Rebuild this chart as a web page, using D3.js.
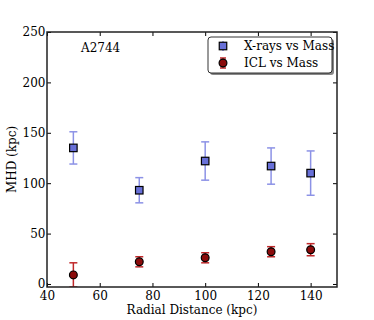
<!DOCTYPE html>
<html>
<head>
<meta charset="utf-8">
<script src="https://cdn.jsdelivr.net/npm/d3@7"></script>
<style>
body { margin: 0; background: #fff; }
</style>
</head>
<body>
<script>
var width = 374;
var height = 320;
var font = "'DejaVu Serif', serif";

// data
var radii = [50, 75, 100, 125, 140];
var xrayMhd = [135, 93, 122, 117, 110];
var xrayErr = [16, 12.5, 19, 18, 22];
var iclMhd = [9, 22, 26, 32, 34];
var iclErr = [12, 5, 5, 5, 6];
var xTicks = [40, 60, 80, 100, 120, 140];
var yTicks = [0, 50, 100, 150, 200, 250];

var m = {left: 47, right: 37, top: 32, bottom: 33};

var svg = d3.select('body').append('svg')
  .attr('width', width)
  .attr('height', height);

var x = d3.scaleLinear().domain([40, 150]).range([m.left, width - m.right]);
var y = d3.scaleLinear().domain([-3, 250]).range([height - m.bottom, m.top]);

svg.append("defs").append("clipPath").attr("id", "plotclip")
  .append("rect")
  .attr("x", m.left).attr("y", m.top)
  .attr("width", width - m.left - m.right)
  .attr("height", height - m.top - m.bottom);

var tickLen = 4;

// axes on all four sides, ticks pointing in
svg.append("g")
  .attr("transform", "translate(0," + (height - m.bottom) + ")")
  .call(d3.axisBottom(x).tickValues(xTicks).tickSize(-tickLen).tickPadding(4).tickSizeOuter(0))
  .call(function(g) { g.select(".domain").remove(); });
svg.append("g")
  .attr("transform", "translate(0," + m.top + ")")
  .call(d3.axisTop(x).tickValues(xTicks).tickSize(-tickLen).tickFormat("").tickSizeOuter(0))
  .call(function(g) { g.select(".domain").remove(); });
svg.append("g")
  .attr("transform", "translate(" + m.left + ",0)")
  .call(d3.axisLeft(y).tickValues(yTicks).tickSize(-tickLen).tickPadding(1.5).tickSizeOuter(0))
  .call(function(g) { g.select(".domain").remove(); });
svg.append("g")
  .attr("transform", "translate(" + (width - m.right) + ",0)")
  .call(d3.axisRight(y).tickValues(yTicks).tickSize(-tickLen).tickFormat("").tickSizeOuter(0))
  .call(function(g) { g.select(".domain").remove(); });

svg.selectAll(".tick text")
  .style("font-family", font)
  .style("font-size", "12px")
  .attr("fill", "#000");
svg.selectAll(".tick line").attr("stroke", "#000").attr("stroke-width", 1);

// error bars and markers
var plot = svg.append("g").attr("clip-path", "url(#plotclip)");

function errorBars(vals, errs, color) {
  var g = plot.append("g");
  radii.forEach(function(r, i) {
    var y0 = y(vals[i] - errs[i]), y1 = y(vals[i] + errs[i]);
    g.append("line").attr("x1", x(r)).attr("x2", x(r)).attr("y1", y0).attr("y2", y1)
      .attr("stroke", color).attr("stroke-width", 1.5);
    [y0, y1].forEach(function(yy) {
      g.append("line").attr("x1", x(r) - 4).attr("x2", x(r) + 4).attr("y1", yy).attr("y2", yy)
        .attr("stroke", color).attr("stroke-width", 1.5);
    });
  });
}

errorBars(xrayMhd, xrayErr, "#8c92e6");
errorBars(iclMhd, iclErr, "#c0282a");

plot.selectAll("rect.xray")
  .data(radii)
  .enter().append("rect")
  .attr("class", "xray")
  .attr("x", function(d) { return x(d) - 3.75; })
  .attr("y", function(d, i) { return y(xrayMhd[i]) - 3.75; })
  .attr("width", 7.5).attr("height", 7.5)
  .attr("fill", "#6870d8")
  .attr("stroke", "#000").attr("stroke-width", 1.2);

plot.selectAll("circle.icl")
  .data(radii)
  .enter().append("circle")
  .attr("class", "icl")
  .attr("cx", function(d) { return x(d); })
  .attr("cy", function(d, i) { return y(iclMhd[i]); })
  .attr("r", 3.9)
  .attr("fill", "#8b0b0b")
  .attr("stroke", "#000").attr("stroke-width", 1.2);

// frame
svg.append("rect")
  .attr("x", m.left).attr("y", m.top)
  .attr("width", width - m.left - m.right)
  .attr("height", height - m.top - m.bottom)
  .attr("fill", "none")
  .attr("stroke", "#222")
  .attr("stroke-width", 1.5);

// labels
svg.append("text")
  .attr("x", (m.left + width - m.right) / 2)
  .attr("y", 314)
  .attr("text-anchor", "middle")
  .style("font-family", font)
  .style("font-size", "12px")
  .text("Radial Distance (kpc)");

svg.append("text")
  .attr("transform", "translate(16," + ((m.top + height - m.bottom) / 2) + ") rotate(-90)")
  .attr("text-anchor", "middle")
  .style("font-family", font)
  .style("font-size", "12px")
  .text("MHD (kpc)");

svg.append("text")
  .attr("x", 81).attr("y", 52)
  .style("font-family", font)
  .style("font-size", "12px")
  .text("A2744");

// legend
var lg = svg.append("g");
lg.append("rect")
  .attr("x", 210).attr("y", 39).attr("width", 124).attr("height", 36)
  .attr("rx", 3).attr("fill", "#888");
lg.append("rect")
  .attr("x", 208).attr("y", 37).attr("width", 124).attr("height", 36)
  .attr("rx", 3).attr("fill", "#fff").attr("stroke", "#000").attr("stroke-width", 0.8);

var legendItems = ["X-rays vs Mass", "ICL vs Mass"];
var legendY = [46, 63];

lg.append("line").attr("x1", 223).attr("x2", 223).attr("y1", legendY[0] - 5).attr("y2", legendY[0] + 5)
  .attr("stroke", "#8c92e6").attr("stroke-width", 1.5);
lg.append("rect").attr("x", 219.25).attr("y", legendY[0] - 3.75).attr("width", 7.5).attr("height", 7.5)
  .attr("fill", "#6870d8").attr("stroke", "#000").attr("stroke-width", 1.2);
lg.append("line").attr("x1", 223).attr("x2", 223).attr("y1", legendY[1] - 5).attr("y2", legendY[1] + 5)
  .attr("stroke", "#c0282a").attr("stroke-width", 1.5);
[legendY[1] - 5, legendY[1] + 5].forEach(function(yy) {
  lg.append("line").attr("x1", 220).attr("x2", 226).attr("y1", yy).attr("y2", yy)
    .attr("stroke", "#c0282a").attr("stroke-width", 1.5);
});
lg.append("circle").attr("cx", 223).attr("cy", legendY[1]).attr("r", 3.9)
  .attr("fill", "#8b0b0b").attr("stroke", "#000").attr("stroke-width", 1.2);

lg.selectAll("text.leg")
  .data(legendItems)
  .enter().append("text")
  .attr("class", "leg")
  .attr("x", 244)
  .attr("y", function(d, i) { return legendY[i] + 4; })
  .style("font-family", font)
  .style("font-size", "12px")
  .text(function(d) { return d; });
</script>
</body>
</html>
